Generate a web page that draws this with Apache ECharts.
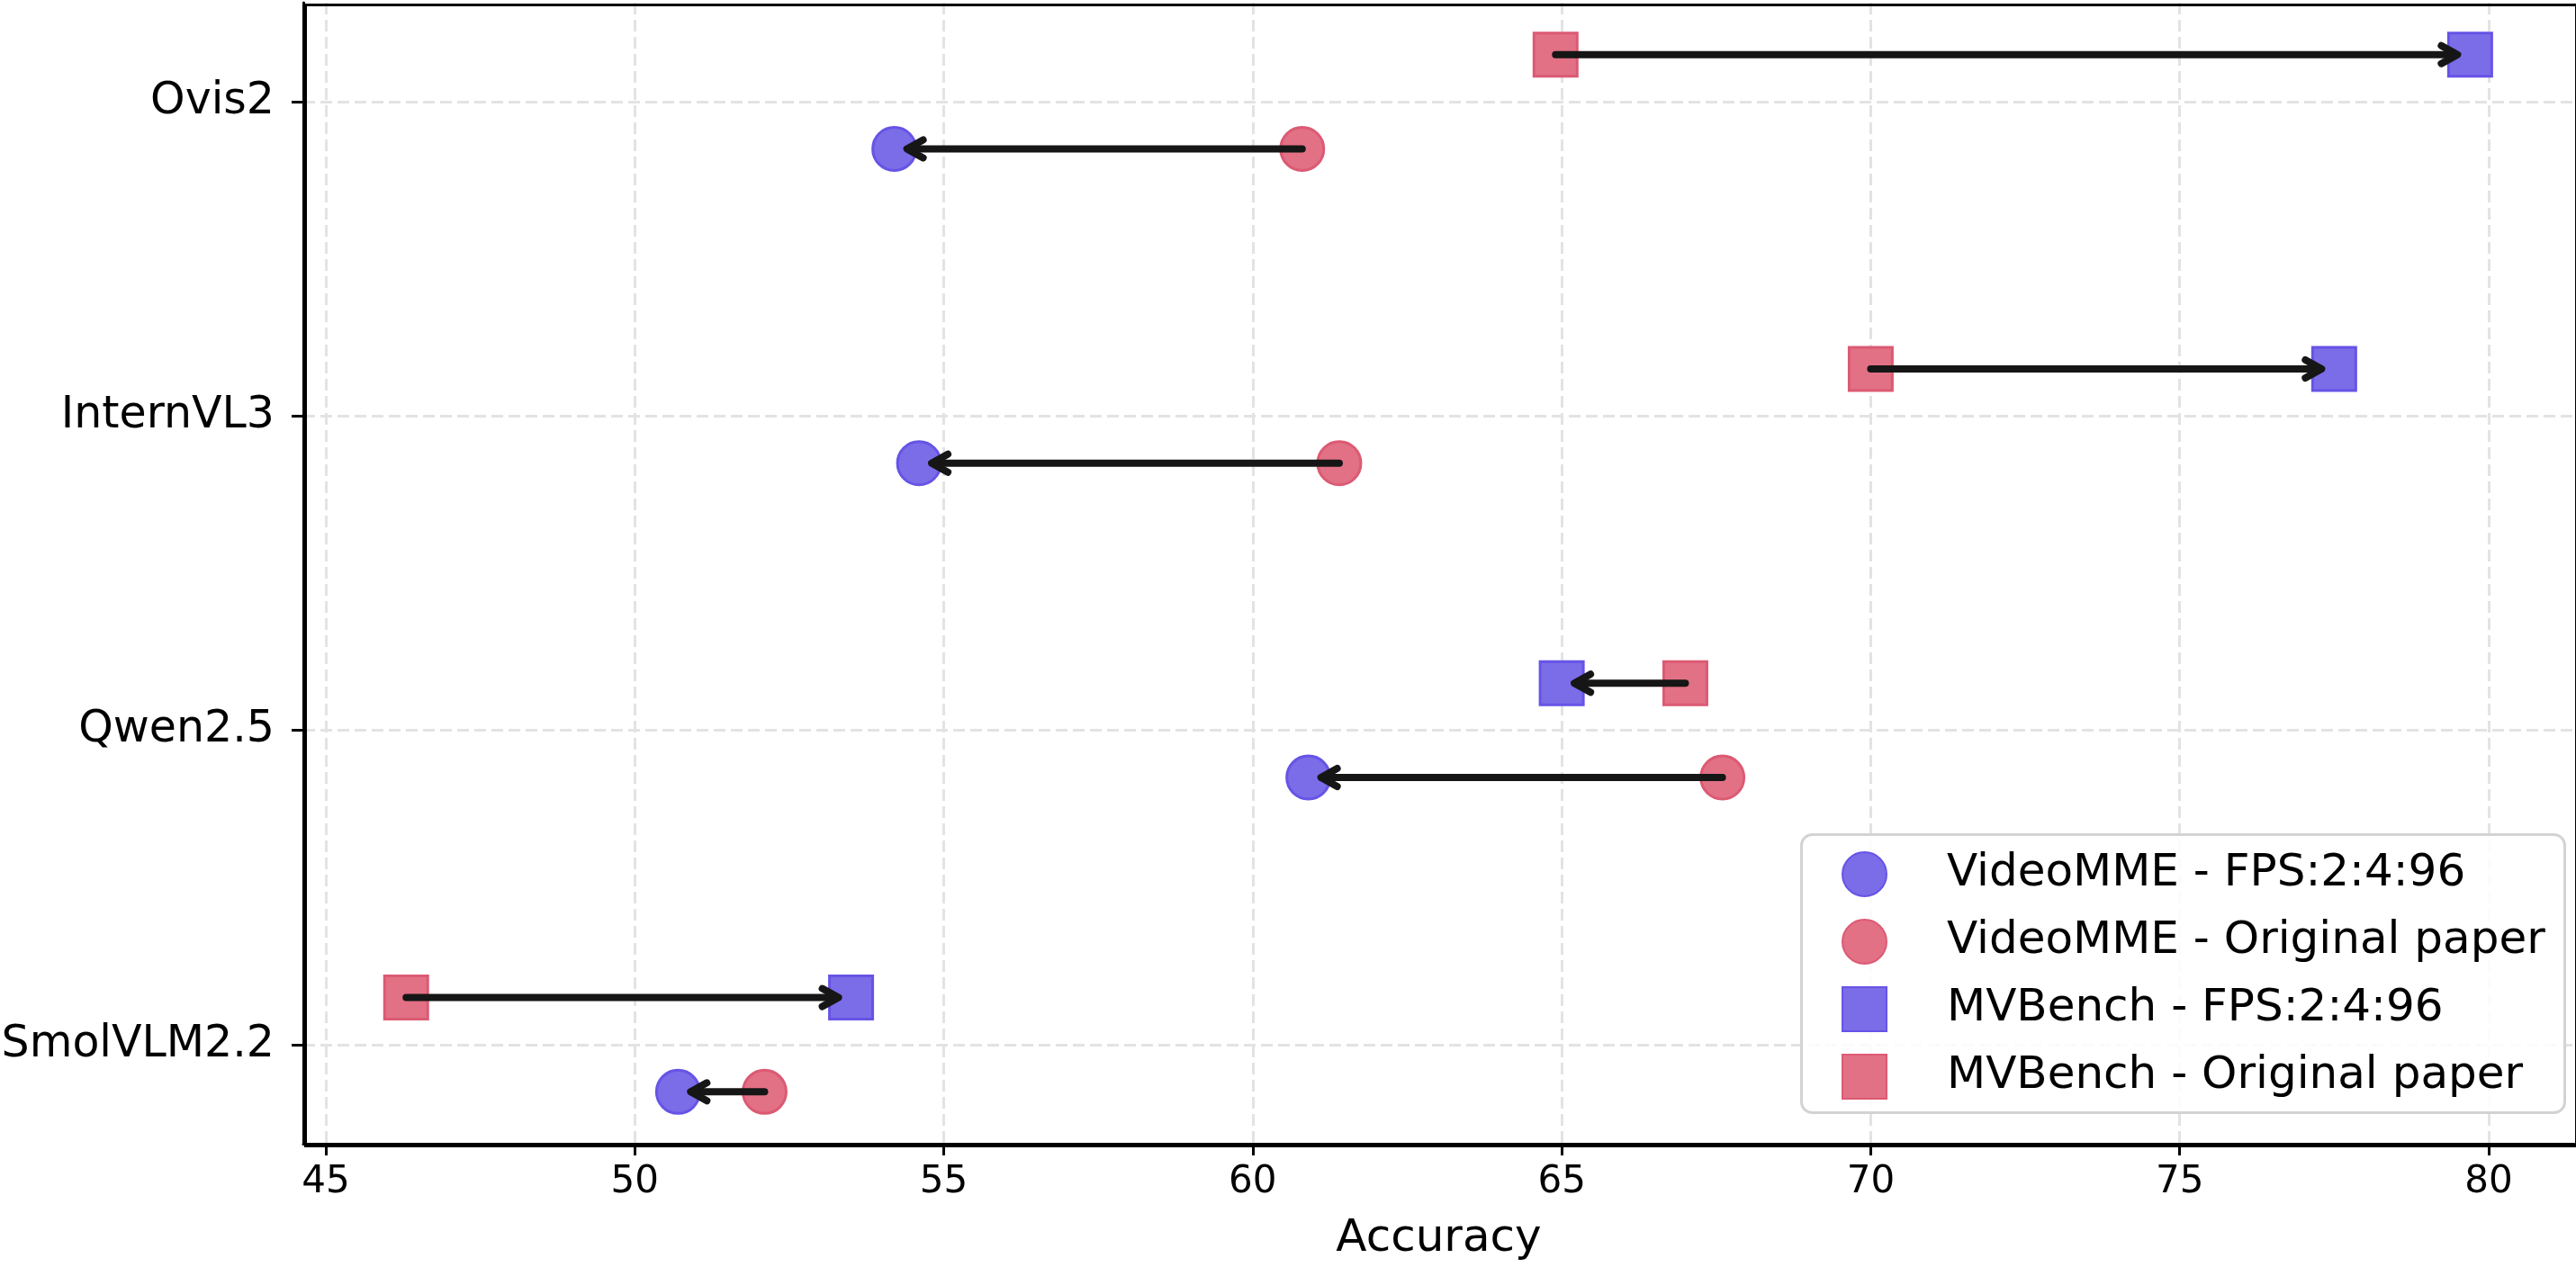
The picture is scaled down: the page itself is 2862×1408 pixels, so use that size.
<!DOCTYPE html>
<html>
<head>
<meta charset="utf-8">
<script src="https://cdn.jsdelivr.net/npm/echarts@6/dist/echarts.min.js"></script>
<style>
html,body{margin:0;padding:0;background:#fff;}
#chart{width:2862px;height:1408px;}
</style>
</head>
<body>
<div id="chart"></div>
<script>
// ---- data ----
var models = ['SmolVLM2.2', 'Qwen2.5', 'InternVL3', 'Ovis2'];
var videoFps = [50.7, 60.9, 54.6, 54.2];
var videoOrig = [52.1, 67.6, 61.4, 60.8];
var mvFps = [53.5, 65.0, 77.5, 79.7];
var mvOrig = [46.3, 67.0, 70.0, 64.9];
var xTicks = [45, 50, 55, 60, 65, 70, 75, 80];
var seriesNames = ['VideoMME - FPS:2:4:96', 'VideoMME - Original paper', 'MVBench - FPS:2:4:96', 'MVBench - Original paper'];

var OFF = 0.15;
function pts(vals, off) { return vals.map(function (v, i) { return [v, i + off]; }); }
function arrows(from, to, off) { return from.map(function (v, i) { return [v, to[i], i + off]; }); }

var FONT = 'DejaVu Sans';
var blueFill = '#7b6ce8', blueEdge = '#6654e6';
var redFill = '#e27185', redEdge = '#dc5a73';

function arrowItem(params, api) {
  var p1 = api.coord([api.value(0), api.value(2)]);
  var p2 = api.coord([api.value(1), api.value(2)]);
  var dir = p2[0] >= p1[0] ? 1 : -1;
  var tipX = p2[0] - dir * 14;
  var y = p1[1];
  var st = { stroke: '#161616', lineWidth: 8, lineCap: 'round', lineJoin: 'round', fill: null };
  return {
    type: 'group',
    children: [
      { type: 'line', shape: { x1: p1[0], y1: y, x2: tipX - dir * 3, y2: y }, style: st },
      { type: 'polyline', shape: { points: [[tipX - dir * 18, y - 10], [tipX, y], [tipX - dir * 18, y + 10]] }, style: st }
    ]
  };
}

var chart = echarts.init(document.getElementById('chart'), null, { renderer: 'canvas' });
chart.setOption({
  backgroundColor: '#fff',
  animation: false,
  textStyle: { fontFamily: FONT },
  grid: { left: 337, right: 2, top: 3, bottom: 137, containLabel: false, outerBoundsMode: 'none' },
  xAxis: {
    type: 'value', min: 44.636, max: 81.384,
    name: 'Accuracy', nameLocation: 'middle', nameGap: 81,
    nameTextStyle: { fontSize: 50, color: '#000', fontFamily: FONT },
    axisLine: { show: true, onZero: false, lineStyle: { color: '#000', width: 3 } },
    axisTick: { show: true, length: 13, lineStyle: { color: '#000', width: 3 }, customValues: xTicks },
    axisLabel: { fontSize: 42, color: '#000', margin: 22, fontFamily: FONT, customValues: xTicks },
    splitLine: { show: true, lineStyle: { color: '#e3e3e3', width: 3, type: [13, 6] } }
  },
  yAxis: {
    type: 'value', min: -0.315, max: 3.315,
    axisLine: { show: true, onZero: false, lineStyle: { color: '#000', width: 3 } },
    axisTick: { show: true, length: 13, lineStyle: { color: '#000', width: 3 }, customValues: [0, 1, 2, 3] },
    axisLabel: {
      fontSize: 49, color: '#000', margin: 32, fontFamily: FONT, customValues: [0, 1, 2, 3],
      formatter: function (v) { return models[Math.round(v)] || ''; }
    },
    splitLine: { show: true, lineStyle: { color: '#e3e3e3', width: 3, type: [13, 6] } }
  },
  graphic: [{
    type: 'rect', z: 3, left: 2000, top: 926,
    shape: { width: 848, height: 309, r: 12 },
    style: { fill: 'rgba(255,255,255,0.85)', stroke: '#d3d3d3', lineWidth: 3 }
  }, {
    type: 'rect', z: 3, left: 337, top: 3,
    shape: { width: 2523, height: 1268 },
    style: { fill: null, stroke: '#000', lineWidth: 3 }
  }],
  legend: {
    z: 5, orient: 'vertical', left: 2046, top: 946, padding: 0,
    itemWidth: 49, itemHeight: 49, itemGap: 24,
    textStyle: { fontSize: 50, color: '#000', fontFamily: FONT, padding: [0, 0, 0, 62] },
    data: seriesNames
  },
  series: [
    { name: seriesNames[0], type: 'scatter', symbol: 'circle', symbolSize: 48, z: 2,
      itemStyle: { color: blueFill, borderColor: blueEdge, borderWidth: 3, opacity: 1 }, data: pts(videoFps, -OFF) },
    { name: seriesNames[1], type: 'scatter', symbol: 'circle', symbolSize: 48, z: 2,
      itemStyle: { color: redFill, borderColor: redEdge, borderWidth: 3, opacity: 1 }, data: pts(videoOrig, -OFF) },
    { name: seriesNames[2], type: 'scatter', symbol: 'rect', symbolSize: 48, z: 2,
      itemStyle: { color: blueFill, borderColor: blueEdge, borderWidth: 3, opacity: 1 }, data: pts(mvFps, OFF) },
    { name: seriesNames[3], type: 'scatter', symbol: 'rect', symbolSize: 48, z: 2,
      itemStyle: { color: redFill, borderColor: redEdge, borderWidth: 3, opacity: 1 }, data: pts(mvOrig, OFF) },
    { name: 'arrowsVideo', type: 'custom', z: 3, renderItem: arrowItem,
      encode: { x: [0, 1], y: 2 }, data: arrows(videoOrig, videoFps, -OFF) },
    { name: 'arrowsMV', type: 'custom', z: 3, renderItem: arrowItem,
      encode: { x: [0, 1], y: 2 }, data: arrows(mvOrig, mvFps, OFF) }
  ]
});
</script>
</body>
</html>
